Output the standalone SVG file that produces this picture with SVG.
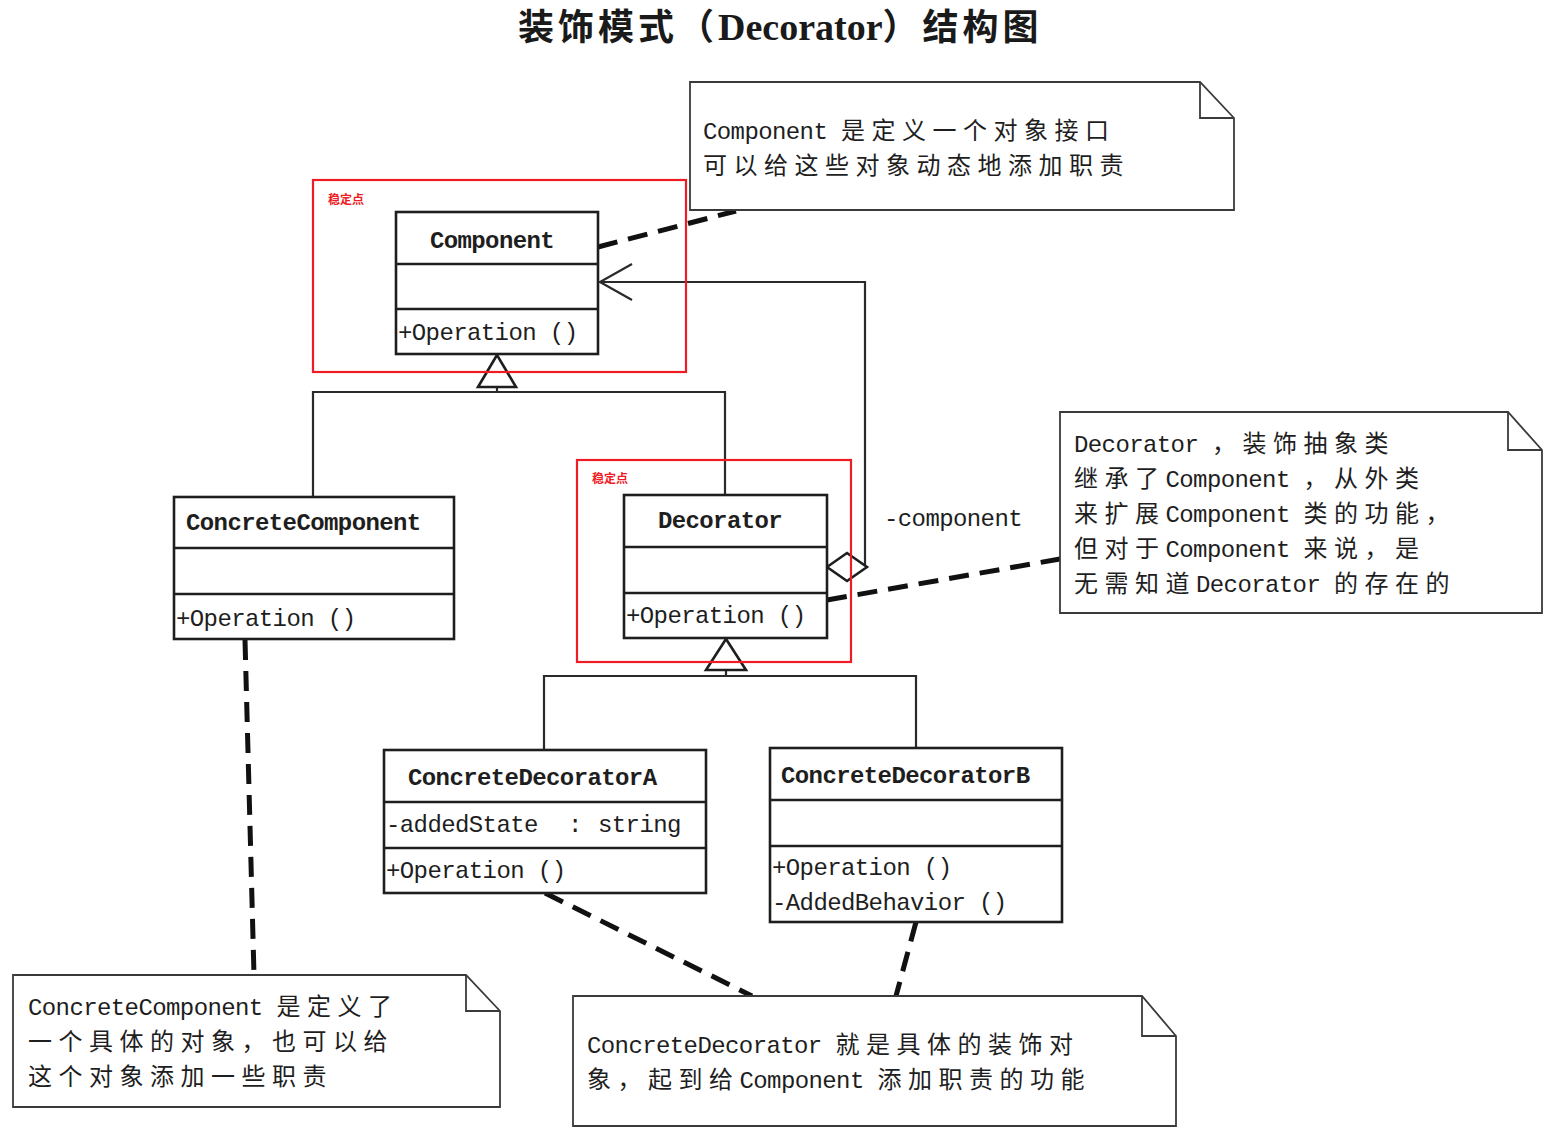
<svg xmlns="http://www.w3.org/2000/svg" width="1558" height="1144" viewBox="0 0 1558 1144">
  <style>
    .box { fill: #ffffff; stroke: #1e1e1e; stroke-width: 2.6; }
    .div { stroke: #1e1e1e; stroke-width: 2.6; }
    .note { fill: #ffffff; stroke: #3a3a3a; stroke-width: 1.8; }
    .fold { fill: none; stroke: #3a3a3a; stroke-width: 1.8; }
    .line { fill: none; stroke: #2a2a2a; stroke-width: 2.2; }
    .head { fill: #ffffff; stroke: #1e1e1e; stroke-width: 2.6; stroke-linejoin: miter; }
    .dash { fill: none; stroke: #111111; stroke-width: 5; stroke-dasharray: 20 11; }
    .hl { fill: none; stroke: #ee1c25; stroke-width: 2.2; }
    .hltxt { font-family: "Noto Sans CJK SC", sans-serif; font-size: 12px; font-weight: bold; fill: #ee1c25; }
    .t { font-family: "Liberation Mono", "Noto Sans CJK SC", monospace; font-size: 24px; letter-spacing: -0.6px; fill: #1e1e1e; }
    .tb { font-weight: bold; }
    .c { font-family: "Noto Sans CJK SC", sans-serif; font-size: 24px; letter-spacing: 6.5px; }
    .title { font-family: "Noto Sans CJK SC", sans-serif; font-size: 36px; font-weight: bold; fill: #1a1a1a; letter-spacing: 4px; }
    .titlelat { font-family: "Liberation Serif", serif; font-size: 38px; font-weight: bold; letter-spacing: 0; }
  </style>

  <rect width="1558" height="1144" fill="#ffffff"/>

  <!-- heading -->
  <text class="title" x="518" y="40">装饰模式（<tspan class="titlelat">Decorator</tspan>）结构图</text>

  <!-- relationships -->
  <g id="connectors">
    <!-- Component generalization tree -->
    <path class="line" d="M313,497 V392 H725 V495"/>
    <line class="line" x1="497" y1="387" x2="497" y2="392"/>
    <polygon class="head" points="497,355 478,387 516,387"/>
    <!-- Decorator generalization tree -->
    <path class="line" d="M544,750 V676 H916 V748"/>
    <line class="line" x1="726" y1="670" x2="726" y2="676"/>
    <polygon class="head" points="726,639 706,670 746,670"/>
    <!-- aggregation Decorator -> Component -->
    <path class="line" d="M865,567 V282 H600"/>
    <polyline class="line" points="632,264 600,282 632,300" stroke-width="2.6"/>
    <polygon class="head" points="827,567 847,553 867,567 847,581"/>
    <!-- note anchors -->
    <line class="dash" x1="598" y1="247" x2="736" y2="211"/>
    <line class="dash" x1="827" y1="600" x2="1060" y2="559"/>
    <line class="dash" x1="245" y1="640" x2="254" y2="975"/>
    <line class="dash" x1="545" y1="893" x2="752" y2="996"/>
    <line class="dash" x1="916" y1="922" x2="896" y2="996"/>
  </g>

  <!-- classes -->
  <g id="component">
    <rect class="box" x="396" y="212" width="202" height="142"/>
    <line class="div" x1="396" y1="264" x2="598" y2="264"/>
    <line class="div" x1="396" y1="309" x2="598" y2="309"/>
    <text class="t tb" x="492" y="248" text-anchor="middle">Component</text>
    <text class="t" x="398" y="340">+Operation ()</text>
  </g>

  <g id="concrete-component">
    <rect class="box" x="174" y="497" width="280" height="142"/>
    <line class="div" x1="174" y1="548" x2="454" y2="548"/>
    <line class="div" x1="174" y1="594" x2="454" y2="594"/>
    <text class="t tb" x="186" y="530">ConcreteComponent</text>
    <text class="t" x="176" y="626">+Operation ()</text>
  </g>

  <g id="decorator">
    <rect class="box" x="624" y="495" width="203" height="143"/>
    <line class="div" x1="624" y1="547" x2="827" y2="547"/>
    <line class="div" x1="624" y1="593" x2="827" y2="593"/>
    <text class="t tb" x="720" y="528" text-anchor="middle">Decorator</text>
    <text class="t" x="626" y="623">+Operation ()</text>
  </g>

  <g id="concrete-decorator-a">
    <rect class="box" x="384" y="750" width="322" height="143"/>
    <line class="div" x1="384" y1="802" x2="706" y2="802"/>
    <line class="div" x1="384" y1="848" x2="706" y2="848"/>
    <text class="t tb" x="408" y="785">ConcreteDecoratorA</text>
    <text class="t" x="386" y="832">-addedState<tspan x="568">:</tspan><tspan x="598">string</tspan></text>
    <text class="t" x="386" y="878">+Operation ()</text>
  </g>

  <g id="concrete-decorator-b">
    <rect class="box" x="770" y="748" width="292" height="174"/>
    <line class="div" x1="770" y1="800" x2="1062" y2="800"/>
    <line class="div" x1="770" y1="846" x2="1062" y2="846"/>
    <text class="t tb" x="781" y="783">ConcreteDecoratorB</text>
    <text class="t" x="772" y="875">+Operation ()</text>
    <text class="t" x="772" y="910">-AddedBehavior ()</text>
  </g>

  <text id="role-component" class="t" x="884" y="526">-component</text>

  <!-- highlighted stable points -->
  <g id="stable-component">
    <rect class="hl" x="313" y="180" width="373" height="192"/>
    <text class="hltxt" x="328" y="204">稳定点</text>
  </g>
  <g id="stable-decorator">
    <rect class="hl" x="577" y="460" width="274" height="202"/>
    <text class="hltxt" x="592" y="483">稳定点</text>
  </g>

  <!-- notes -->
  <g id="note-component">
    <path class="note" d="M690,82 H1200 L1234,118 V210 H690 Z"/>
    <path class="fold" d="M1200,82 V118 H1234"/>
    <text class="t" x="703" y="139">Component <tspan class="c">是定义一个对象接口</tspan></text>
    <text class="t" x="703" y="174"><tspan class="c">可以给这些对象动态地添加职责</tspan></text>
  </g>

  <g id="note-decorator">
    <path class="note" d="M1060,412 H1508 L1542,450 V613 H1060 Z"/>
    <path class="fold" d="M1508,412 V450 H1542"/>
    <text class="t" x="1074" y="452">Decorator <tspan class="c">，装饰抽象类</tspan></text>
    <text class="t" x="1074" y="487"><tspan class="c">继承了</tspan>Component <tspan class="c">，从外类</tspan></text>
    <text class="t" x="1074" y="522"><tspan class="c">来扩展</tspan>Component <tspan class="c">类的功能，</tspan></text>
    <text class="t" x="1074" y="557"><tspan class="c">但对于</tspan>Component <tspan class="c">来说，是</tspan></text>
    <text class="t" x="1074" y="592"><tspan class="c">无需知道</tspan>Decorator <tspan class="c">的存在的</tspan></text>
  </g>

  <g id="note-concrete-component">
    <path class="note" d="M13,975 H466 L500,1011 V1107 H13 Z"/>
    <path class="fold" d="M466,975 V1011 H500"/>
    <text class="t" x="28" y="1015">ConcreteComponent <tspan class="c">是定义了</tspan></text>
    <text class="t" x="28" y="1050"><tspan class="c">一个具体的对象，也可以给</tspan></text>
    <text class="t" x="28" y="1085"><tspan class="c">这个对象添加一些职责</tspan></text>
  </g>

  <g id="note-concrete-decorator">
    <path class="note" d="M573,996 H1142 L1176,1036 V1126 H573 Z"/>
    <path class="fold" d="M1142,996 V1036 H1176"/>
    <text class="t" x="587" y="1053">ConcreteDecorator <tspan class="c">就是具体的装饰对</tspan></text>
    <text class="t" x="587" y="1088"><tspan class="c">象，起到给</tspan>Component <tspan class="c">添加职责的功能</tspan></text>
  </g>
</svg>
